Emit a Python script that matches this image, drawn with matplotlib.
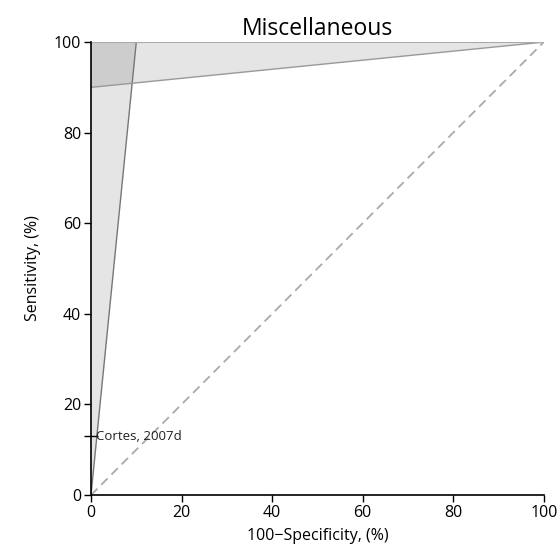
import matplotlib
matplotlib.use("Agg")
import matplotlib.pyplot as plt
import numpy as np

plt.rcParams['font.family'] = ['Open Sans', 'DejaVu Sans']

title = "Miscellaneous"
study = ["Cortes, 2007d"]
study_y = [13]
# boundary lines (100-specificity, sensitivity)
spec_line_x = [0, 10]
spec_line_y = [0, 100]
sens_line_x = [0, 100]
sens_line_y = [90, 100]
ticks = [0, 20, 40, 60, 80, 100]

fig = plt.figure(figsize=(5.6, 5.48), dpi=100)
ax = fig.add_axes([0.1625, 0.0967, 0.8085, 0.8265])

# shaded regions
ax.fill([spec_line_x[0], spec_line_x[1], 0], [spec_line_y[0], spec_line_y[1], 100],
        color='black', alpha=0.1, lw=0)
ax.fill([sens_line_x[0], sens_line_x[1], 0], [sens_line_y[0], sens_line_y[1], 100],
        color='black', alpha=0.1, lw=0)
ax.plot(spec_line_x, spec_line_y, color='#777777', lw=1.0)
ax.plot(sens_line_x, sens_line_y, color='#999999', lw=1.0)
ax.plot([0, 100], [100, 100], color='#aaaaaa', lw=1.5)
ax.plot([0, 100], [0, 100], color='#aaaaaa', lw=1.3, ls=(0, (5, 3)))

for name, y in zip(study, study_y):
    ax.plot([0], [y], marker='_', color='black', markersize=10, mew=1, clip_on=False)
    ax.text(1.2, y, name, fontsize=9.5, va='center', ha='left', color='#222222')

ax.set_xlim(0, 100)
ax.set_ylim(0, 100)
ax.set_xticks(ticks)
ax.set_yticks(ticks)
ax.tick_params(labelsize=11.5, length=5, width=1, color='black', pad=2)
ax.spines['top'].set_visible(False)
ax.spines['right'].set_visible(False)
for s in ['left', 'bottom']:
    ax.spines[s].set_linewidth(1.2)
ax.set_xlabel("100\u2212Specificity, (%)", fontsize=11.5, labelpad=5)
ax.set_ylabel("Sensitivity, (%)", fontsize=11.5, labelpad=9)
ax.set_title(title, fontsize=16.5, pad=5)

fig.savefig("out.png", dpi=100)
